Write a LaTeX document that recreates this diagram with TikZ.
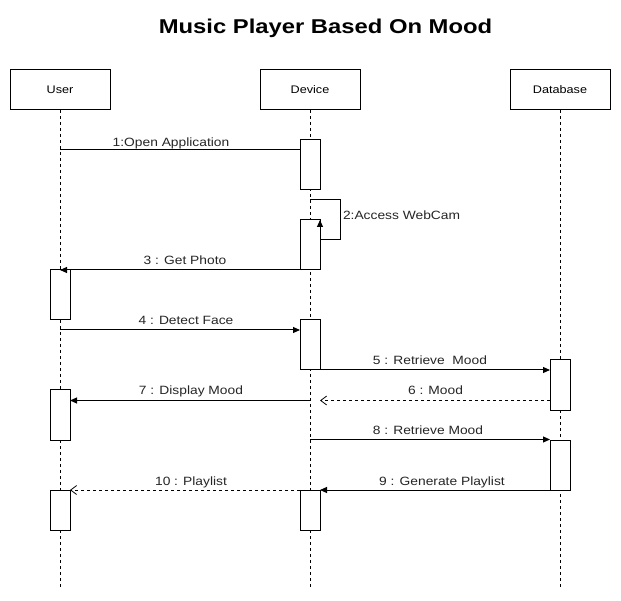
\documentclass[tikz,border=0pt]{standalone}
\usepackage{fontspec}
\setmainfont{Liberation Sans}
\newfontfamily\lblfont{Liberation Sans}[FakeStretch=1.15]
\newfontfamily\ttlfont{Liberation Sans}[FakeStretch=1.19]
\usetikzlibrary{arrows.meta}
\begin{document}
\begin{tikzpicture}[x=1pt,y=-1pt,
  every node/.style={inner sep=0pt,outer sep=0pt},
  headbox/.style={draw,line width=1pt,fill=white,minimum width=100pt,minimum height=40pt,font=\lblfont\fontsize{11}{13}\selectfont},
  actbox/.style={draw,line width=1pt,fill=white,minimum width=20pt},
  lifeline/.style={line width=0.8pt,dash pattern=on 3pt off 3pt},
  msg/.style={line width=1pt,-{Triangle[length=7pt,width=6pt]}},
  plain/.style={line width=1pt},
  ret/.style={line width=1pt,dash pattern=on 3pt off 3pt,-{Straight Barb[length=6pt,width=9pt,line width=0.8pt]}},
  lbl/.style={anchor=base,font=\lblfont\fontsize{12}{14}\selectfont,text=black!85}
]
\useasboundingbox (0,0) rectangle (621,601);
\fill[white] (0,0) rectangle (621,601);

\node[anchor=base,font=\ttlfont\bfseries\fontsize{20}{24}\selectfont] (title) at (325.5,33.3) {Music Player Based On Mood};

% heads
\node[headbox] (user) at (60,90) {User};
\node[headbox] (device) at (310,90) {Device};
\node[headbox] (db) at (560,90) {Database};

% lifeline ends
\coordinate (uend) at (60,587);
\coordinate (dend) at (310,587);
\coordinate (bend) at (560,587);
\draw[lifeline] (user.south) -- (uend);
\draw[lifeline] (device.south) -- (dend);
\draw[lifeline] (db.south) -- (bend);

% activations
\node[actbox,minimum height=50pt] (da1) at (310,165) {};
\node[actbox,minimum height=50pt] (da2) at (310,245) {};
\node[actbox,minimum height=50pt] (ua1) at (60,295) {};
\node[actbox,minimum height=50pt] (da3) at (310,345) {};
\node[actbox,minimum height=50pt] (dba1) at (560,385) {};
\node[actbox,minimum height=50pt] (ua2) at (60,415) {};
\node[actbox,minimum height=50pt] (dba2) at (560,465) {};
\node[actbox,minimum height=40pt] (da4) at (310,510) {};
\node[actbox,minimum height=40pt] (ua3) at (60,510) {};

% message anchors
\coordinate (m1s) at (60,150);
\coordinate (m2a) at (310,200);
\coordinate (m2b) at (340,200);
\coordinate (m2c) at (340,240);
\coordinate (m2d) at (320,240);
\coordinate (m4s) at (60,330);
\coordinate (m7s) at (310,400.5);
\coordinate (m8s) at (310,439.5);

% 1
\draw[plain] (m1s) -- (da1.west |- m1s);
\node[lbl] (l1) at (171,146.5) {1:Open Application};
% 2
\draw[line width=1pt,-{Triangle[length=7pt,width=6pt]}] (da2.north |- m2a) -- (m2a) -- (m2b) -- (m2c) -- (m2d) -- (da2.north east);
\node[lbl,anchor=west] (l2) at (343,215) {2:Access WebCam};
% 3
\draw[msg] (da2.south west) -- (ua1.north);
\node[lbl] (l3) at (185,265) {3 : Get Photo};
% 4
\draw[msg] (m4s) -- (da3.west |- m4s);
\node[lbl] (l4) at (186,325) {4 : Detect Face};
% 5
\draw[msg] (da3.south east) -- (dba1.west |- da3.south);
\node[lbl] (l5) at (430,365) {5 : Retrieve\ \ Mood};
% 6
\draw[ret] (dba1.west |- m7s) -- (da3.east |- m7s);
\node[lbl] (l6) at (435.5,395) {6 : Mood};
% 7
\draw[msg] (m7s) -- (ua2.east |- m7s);
\node[lbl] (l7) at (191,395) {7 : Display Mood};
% 8
\draw[msg] (m8s) -- (dba2.west |- m8s);
\node[lbl] (l8) at (428,434.3) {8 : Retrieve Mood};
% 9
\draw[msg] (dba2.south west) -- (da4.north east);
\node[lbl] (l9) at (442,485) {9 : Generate Playlist};
% 10
\draw[ret] (da4.north west) -- (ua3.north east);
\node[lbl] (l10) at (191,485) {10 : Playlist};
\end{tikzpicture}
\end{document}
